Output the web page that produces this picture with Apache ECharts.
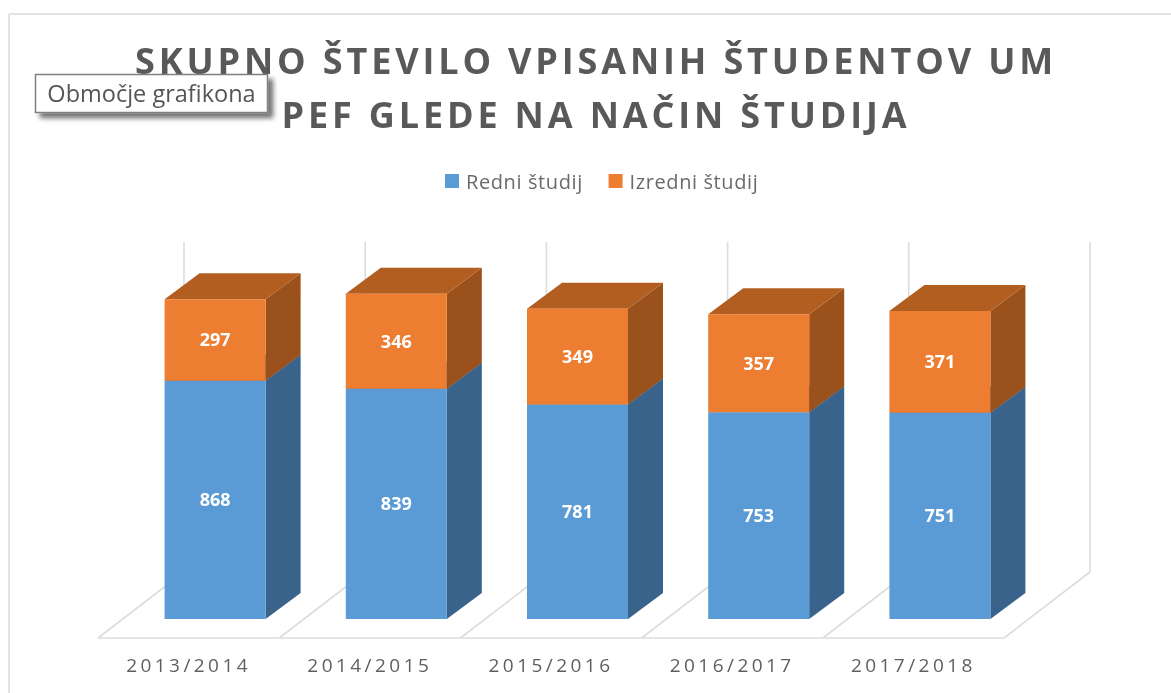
<!DOCTYPE html>
<html><head><meta charset="utf-8">
<style>
html,body{margin:0;padding:0;background:#fff}
#c{width:1171px;height:693px;filter:blur(0.45px)}
#c text[style*="36px"]{letter-spacing:3.85px}
#c text[style*="19px"]{letter-spacing:3.45px}
#c text[style*="20px"]{letter-spacing:.6px}
</style>
<script src="https://cdn.jsdelivr.net/npm/echarts@6/dist/echarts.min.js"></script>
</head><body><div id="c"></div>
<script>
const categories = ['2013/2014','2014/2015','2015/2016','2016/2017','2017/2018'];
const redni = [868,839,781,753,751];
const izredni = [297,346,349,357,371];
const chart = echarts.init(document.getElementById('c'),null,{renderer:'svg'});

function walls(params, api){
  const i = api.value(0), p = api.coord([i,0]), w = api.size([1,0])[0];
  const lineStyle = {stroke:'#dcdcdc',lineWidth:1.6,fill:null};
  const top = api.coord([i,1202])[1]-47;
  const xf = p[0]-w/2, yf = p[1]+19, xb = xf+86, yb = p[1]-47;
  const kids = [
    {type:'polyline',shape:{points:[[xf,yf],[xb,yb],[xb,top]]},style:lineStyle},
    {type:'line',shape:{x1:xf,y1:yf,x2:xf+w,y2:yf},style:lineStyle}
  ];
  if(i===categories.length-1){
    kids.push({type:'polyline',shape:{points:[[xf+w,yf],[xb+w,yb],[xb+w,top]]},style:lineStyle});
  }
  return {type:'group',children:kids};
}

function bar(front, side, topC){
  return function(params, api){
    const i = api.value(0), base = api.value(2), v = api.value(1);
    const c = api.coord([i,base]), t = api.coord([i,base+v]);
    const hw = 50.5, off = 26.5, dx = 35, dy = 26;
    const x0 = c[0]+off-hw, x1 = c[0]+off+hw, y0 = c[1], y1 = t[1];
    const kids = [
      {type:'polygon',shape:{points:[[x1,y0],[x1+dx,y0-dy],[x1+dx,y1-dy],[x1,y1]]},style:{fill:side}},
      {type:'polygon',shape:{points:[[x0,y1],[x1,y1],[x1+dx,y1-dy],[x0+dx,y1-dy]]},style:{fill:topC}},
      {type:'rect',shape:{x:x0,y:y1,width:x1-x0,height:y0-y1},style:{fill:front}},
      {type:'text',style:{x:c[0]+off,y:(y0+y1)/2-0.5,text:String(v),fill:'#fff',
        font:'bold 18px "Open Sans"',align:'center',verticalAlign:'middle'}}
    ];
    return {type:'group',children:kids};
  };
}

chart.setOption({
  animation:false,
  title:{text:'SKUPNO ŠTEVILO VPISANIH ŠTUDENTOV UM\nPEF GLEDE NA NAČIN ŠTUDIJA',left:591,top:28,textAlign:'center',
    textStyle:{fontFamily:'Open Sans',fontWeight:'bold',fontSize:36,lineHeight:54,color:'#595959'}},
  legend:{left:445,top:171,padding:0,itemWidth:14,itemHeight:14,itemGap:33,icon:'rect',
    data:['Redni študij','Izredni študij'],
    textStyle:{fontFamily:'Open Sans',fontSize:20,color:'#6a6a6a',padding:[0,0,6,2]}},
  grid:{left:98,right:167,top:234.7,bottom:74},
  xAxis:{type:'category',data:categories,axisLine:{show:false},axisTick:{show:false},splitLine:{show:false},
    axisLabel:{margin:36,fontFamily:'Open Sans',fontSize:19,color:'#5f5f5f'}},
  yAxis:{type:'value',min:0,max:1400,show:false},
  series:[
    {type:'custom',name:'walls',renderItem:walls,silent:true,z:1,encode:{x:0,y:1},
      data:categories.map((c,i)=>[i,0,0])},
    {type:'custom',name:'Redni študij',renderItem:bar('#5B9BD5','#39638A','#3F6F9B'),z:2,encode:{x:0,y:1},
      itemStyle:{color:'#5B9BD5'},data:redni.map((v,i)=>[i,v,0])},
    {type:'custom',name:'Izredni študij',renderItem:bar('#ED7D31','#9B511B','#B35E21'),z:3,encode:{x:0,y:1},
      itemStyle:{color:'#ED7D31'},data:izredni.map((v,i)=>[i,v,redni[i]])}
  ],
  graphic:[
    {type:'line',z:0,shape:{x1:9,y1:14,x2:1171,y2:14},style:{stroke:'#e2e2e2',lineWidth:2}},
    {type:'line',z:0,shape:{x1:9,y1:14,x2:9,y2:693},style:{stroke:'#e2e2e2',lineWidth:2}},
    {type:'rect',z:100,shape:{x:35.5,y:74.5,width:232,height:38},
      style:{fill:'#fff',stroke:'#7f7f7f',lineWidth:1.5,shadowBlur:5,shadowOffsetX:5,shadowOffsetY:5,shadowColor:'rgba(0,0,0,0.55)'}},
    {type:'text',z:101,style:{x:151.5,y:92.5,text:'Območje grafikona',fill:'#555555',
      font:'23.5px "Open Sans"',align:'center',verticalAlign:'middle'}}
  ]
});
</script></body></html>
